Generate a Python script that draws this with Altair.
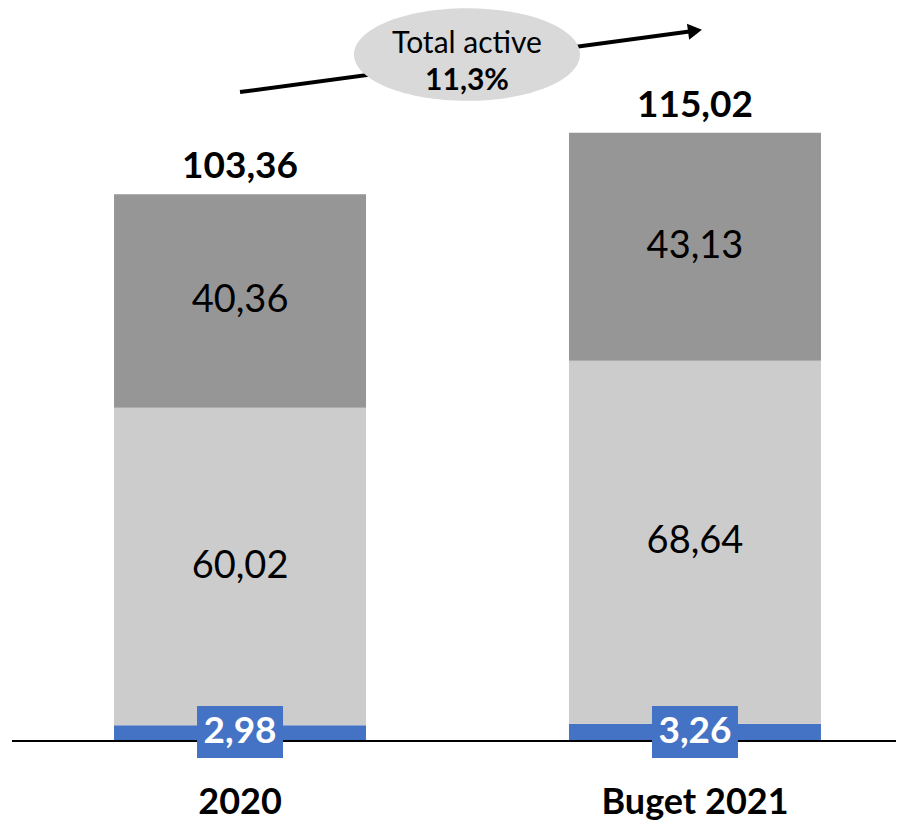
import altair as alt
import pandas as pd

# ---- data ----
categories = ["2020", "Buget 2021"]
series = ["Blue", "Light", "Dark"]
blue_vals = [2.98, 3.26]
light_vals = [60.02, 68.64]
dark_vals = [40.36, 43.13]
totals = [103.36, 115.02]
growth_label = ["Total active", "11,3%"]

def fmt(v):
    return f"{v:.2f}".replace(".", ",")

rows = []
for i, c in enumerate(categories):
    base = 0.0
    for s, vals in zip(series, [blue_vals, light_vals, dark_vals]):
        v = vals[i]
        rows.append({"cat": c, "series": s, "y0": base, "y1": base + v,
                     "mid": base + v / 2, "label": fmt(v)})
        base += v
seg = pd.DataFrame(rows)
tot = pd.DataFrame({"cat": categories, "total": totals, "label": [fmt(t) for t in totals]})
blue = seg[seg.series == "Blue"]
upper = seg[seg.series != "Blue"]

FONT = "Lato"
W, H = 888, 733
YMAX = 138.6

xs = alt.Scale(domain=categories, range=[106, 813], paddingInner=0.446, paddingOuter=0)
ys = alt.Scale(domain=[0, YMAX], nice=False, zero=True)

X = alt.X("cat:N", scale=xs, sort=categories,
          axis=alt.Axis(title=None, labelAngle=0, ticks=False, domain=False,
                        labelFontSize=36, labelFontWeight="bold", labelColor="#000000",
                        labelFont=FONT, labelPadding=44, labelLimit=0))

bars = alt.Chart(seg).mark_bar(width=252).encode(
    x=X,
    y=alt.Y("y0:Q", scale=ys, axis=None),
    y2="y1:Q",
    color=alt.Color("series:N", scale=alt.Scale(domain=series,
                    range=["#4472c4", "#cccccc", "#969696"]), legend=None),
)

seg_labels = alt.Chart(upper).mark_text(fontSize=38, font=FONT, color="#000000").encode(
    x=alt.X("cat:N", scale=xs, sort=categories),
    y=alt.Y("mid:Q", scale=ys),
    text="label:N",
)

tot_labels = alt.Chart(tot).mark_text(fontSize=37, font=FONT, fontWeight="bold",
                                      color="#000000", baseline="bottom", dy=-8).encode(
    x=alt.X("cat:N", scale=xs, sort=categories),
    y=alt.Y("total:Q", scale=ys),
    text="label:N",
)

baseline = alt.Chart(pd.DataFrame({"y": [0]})).mark_rule(color="#000000", strokeWidth=2).encode(
    y=alt.Y("y:Q", scale=ys), x=alt.value(4), x2=alt.value(W + 8)
)

blue_boxes = alt.Chart(blue).mark_point(
    shape="M-1,-0.605L1,-0.605L1,0.605L-1,0.605Z", size=7396, filled=True,
    fill="#4472c4", opacity=1, strokeWidth=0, yOffset=-9
).encode(
    x=alt.X("cat:N", scale=xs, sort=categories),
    y=alt.Y("y0:Q", scale=ys),
)

blue_labels = alt.Chart(blue).mark_text(fontSize=37, font=FONT, fontWeight="bold",
                                        color="#ffffff", yOffset=-9).encode(
    x=alt.X("cat:N", scale=xs, sort=categories),
    y=alt.Y("y0:Q", scale=ys),
    text="label:N",
)

# growth arrow from bar centre to bar centre
arrow = pd.DataFrame({"cat": [categories[0]], "cat2": [categories[1]],
                      "ya": [122.7], "yb": [134.3]})
arrow_line = alt.Chart(arrow).mark_rule(color="#000000", strokeWidth=4).encode(
    x=alt.X("cat:N", scale=xs, sort=categories), x2="cat2:N",
    y=alt.Y("ya:Q", scale=ys), y2="yb:Q",
)
arrow_head = alt.Chart(arrow).mark_point(shape="triangle-right", size=260, filled=True,
                                         color="#000000", opacity=1, angle=352.2).encode(
    x=alt.X("cat2:N", scale=xs, sort=categories),
    y=alt.Y("yb:Q", scale=ys),
)

EX = 459
ell = pd.DataFrame({"y": [129.8], "t1": [growth_label[0]], "t2": [growth_label[1]]})
ellipse = alt.Chart(ell).mark_point(
    shape="M-1,0A1,0.41,0,1,0,1,0A1,0.41,0,1,0,-1,0Z", size=51076, filled=True,
    fill="#d9d9d9", opacity=1, strokeWidth=0
).encode(x=alt.value(EX), y=alt.Y("y:Q", scale=ys))
ell_t1 = alt.Chart(ell).mark_text(fontSize=30, font=FONT, color="#000000", dy=-11).encode(
    x=alt.value(EX), y=alt.Y("y:Q", scale=ys), text="t1:N")
ell_t2 = alt.Chart(ell).mark_text(fontSize=30, font=FONT, fontWeight="bold", color="#000000", dy=26).encode(
    x=alt.value(EX), y=alt.Y("y:Q", scale=ys), text="t2:N")

chart = alt.layer(
    bars, seg_labels, tot_labels, baseline, blue_boxes, blue_labels,
    arrow_line, arrow_head, ellipse, ell_t1, ell_t2
).properties(
    width=W, height=H,
    autosize=alt.AutoSizeParams(type="none"),
    padding={"left": 0, "top": 0, "right": 0, "bottom": 82},
).configure(background="#ffffff").configure_view(strokeWidth=0, stroke="transparent")

chart.save("out.html", embed_options={"renderer": "svg", "actions": False})
